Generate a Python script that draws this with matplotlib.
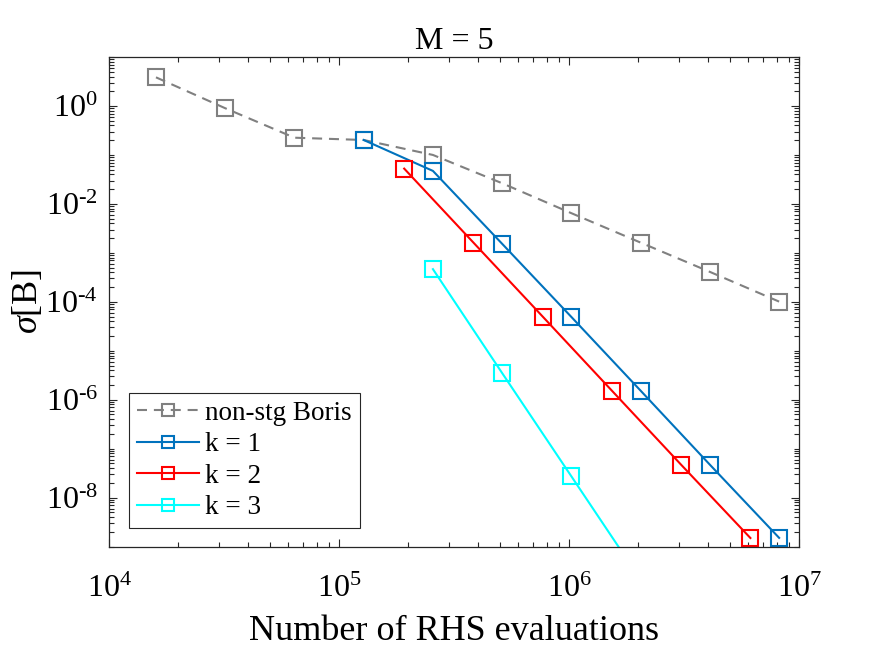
import numpy as np
import matplotlib
matplotlib.use("Agg")
import matplotlib.pyplot as plt
from matplotlib.ticker import LogLocator, FixedLocator, FuncFormatter, NullFormatter

plt.rcParams['font.family'] = ['Liberation Serif', 'DejaVu Serif']
plt.rcParams['mathtext.fontset'] = 'custom'
plt.rcParams['mathtext.rm'] = 'Liberation Serif'
plt.rcParams['mathtext.it'] = 'Liberation Serif:italic'

# data
n_boris = [16000, 32000, 64000, 128000, 256000, 512000, 1024000, 2048000, 4096000, 8192000]
err_boris = [3.85, 0.90, 0.225, 0.202, 0.100, 0.0264, 0.00646, 0.00162, 4.09e-4, 1.01e-4]

n_k1 = [128000, 256000, 512000, 1024000, 2048000, 4096000, 8192000]
err_k1 = [0.202, 0.0472, 1.53e-3, 4.9e-5, 1.53e-6, 4.71e-8, 1.51e-9]

n_k2 = [192000, 384000, 768000, 1536000, 3072000, 6144000]
err_k2 = [0.0526, 1.62e-3, 5.0e-5, 1.53e-6, 4.7e-8, 1.5e-9]

n_k3 = [256000, 512000, 1024000, 2048000]
err_k3 = [4.65e-4, 3.5e-6, 2.72e-8, 2.1e-10]

x_ticks = [1e4, 1e5, 1e6, 1e7]
y_ticks = [1e-8, 1e-6, 1e-4, 1e-2, 1e0]

gray = (0.5, 0.5, 0.5)
blue = (0.0, 0.447, 0.741)
red = (1.0, 0.0, 0.0)
cyan = (0.0, 1.0, 1.0)
axcol = (0.15, 0.15, 0.15)

fig = plt.figure(figsize=(8.75, 6.57), dpi=100)
ax = fig.add_axes([0.1246, 0.168, 0.7886, 0.7452])

mk = dict(marker='s', markersize=12, markerfacecolor='none', markeredgewidth=1.5, linewidth=1.5)
ax.plot(n_boris, err_boris, color=gray, dashes=(4.8, 3.3), label='non-stg Boris', **mk)
ax.plot(n_k1, err_k1, color=blue, label='k = 1', **mk)
ax.plot(n_k2, err_k2, color=red, label='k = 2', **mk)
ax.plot(n_k3, err_k3, color=cyan, label='k = 3', **mk)

ax.set_xscale('log')
ax.set_yscale('log')
ax.set_xlim(1e4, 1e7)
ax.set_ylim(1e-9, 1e1)


def pow10(v, pos):
    e = int(round(np.log10(v)))
    return r'$10^{\text{%d}}$' % e


ax.xaxis.set_major_locator(FixedLocator(x_ticks))
ax.xaxis.set_major_formatter(FuncFormatter(pow10))
ax.xaxis.set_minor_locator(LogLocator(base=10, subs=np.arange(2, 10), numticks=20))
ax.yaxis.set_major_locator(FixedLocator(y_ticks))
ax.yaxis.set_major_formatter(FuncFormatter(pow10))
ax.yaxis.set_minor_locator(LogLocator(base=10, subs=np.arange(1, 10), numticks=30))
ax.xaxis.set_minor_formatter(NullFormatter())
ax.yaxis.set_minor_formatter(NullFormatter())

ax.tick_params(which='both', direction='in', top=True, right=True, colors=axcol,
               labelcolor='black', labelsize=23, width=0.8)
ax.tick_params(which='major', length=6)
ax.tick_params(which='minor', length=3.5)
ax.tick_params(axis='x', which='major', pad=20)
ax.tick_params(axis='y', which='major', pad=8)
for s in ax.spines.values():
    s.set_color(axcol)
    s.set_linewidth(0.9)

ax.set_xlabel('Number of RHS evaluations', fontsize=26, labelpad=8)
ax.set_ylabel(r'$\mathit{\sigma}$[B]', fontsize=26, labelpad=0)
ax.set_title('M = 5', fontsize=23, pad=6)

leg = ax.legend(loc='upper left', bbox_to_anchor=(0.029, 0.3145), fontsize=19.5,
                handlelength=2.3, handletextpad=0.2, labelspacing=0.24, markerscale=0.72,
                borderpad=0.3, borderaxespad=0, fancybox=False, framealpha=1)
leg.get_frame().set_edgecolor(axcol)
leg.get_frame().set_linewidth(0.8)

fig.savefig('out.png', dpi=100)
